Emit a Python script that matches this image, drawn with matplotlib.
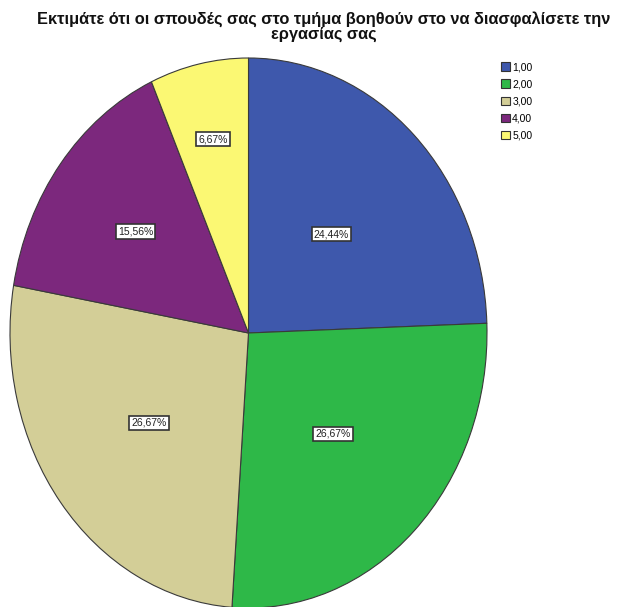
import matplotlib.pyplot as plt
import numpy as np

categories = ['1,00', '2,00', '3,00', '4,00', '5,00']
percents = [24.44, 26.67, 26.67, 15.56, 6.67]
colors = ['#3E58AC', '#2EB848', '#D3CE97', '#7C287D', '#FBF873']
title = 'Εκτιμάτε ότι οι σπουδές σας στο τμήμα βοηθούν στο να διασφαλίσετε την\nεργασίας σας'

plt.rcParams['font.family'] = ['Liberation Sans', 'DejaVu Sans']

W, H = 629, 607
fig = plt.figure(figsize=(W / 100, H / 100), dpi=100)
# axes box in pixels: pie spans x 10..487, y 58..608 (from top)
ax = fig.add_axes([10 / W, -1 / H, 477 / W, 550 / H])

wedges, _ = ax.pie(percents, colors=colors, startangle=90, counterclock=False,
                   radius=1, wedgeprops=dict(edgecolor='#3a3a3a', linewidth=0.8))
ax.set_aspect('auto')
ax.set_xlim(-1, 1)
ax.set_ylim(-1, 1)
ax.axis('off')

# percentage labels inside slices
label_r = [0.5, 0.51, 0.53, 0.6, 0.72]
for w, p, r in zip(wedges, percents, label_r):
    mid = np.deg2rad((w.theta1 + w.theta2) / 2)
    ax.text(r * np.cos(mid), r * np.sin(mid), f'{p:.2f}%'.replace('.', ','),
            ha='center', va='center', fontsize=7.5, color='#222222',
            bbox=dict(boxstyle='square,pad=0.2', fc='white', ec='#333333', lw=1.2))

fig.text(0.515, 1 - 11 / H, title, ha='center', va='top', fontsize=11.8,
         fontweight='bold', linespacing=1.0, color='#111111')

handles = [plt.Rectangle((0, 0), 1, 1, fc=c, ec='#333333', lw=0.8) for c in colors]
fig.legend(handles, categories, loc='upper left', bbox_to_anchor=(494 / W, 1 - 55 / H),
           frameon=False, fontsize=7.5, handlelength=0.85, handleheight=0.9,
           handletextpad=0.2, labelspacing=0.68, borderpad=0.2)

fig.savefig('out.png', dpi=100)
